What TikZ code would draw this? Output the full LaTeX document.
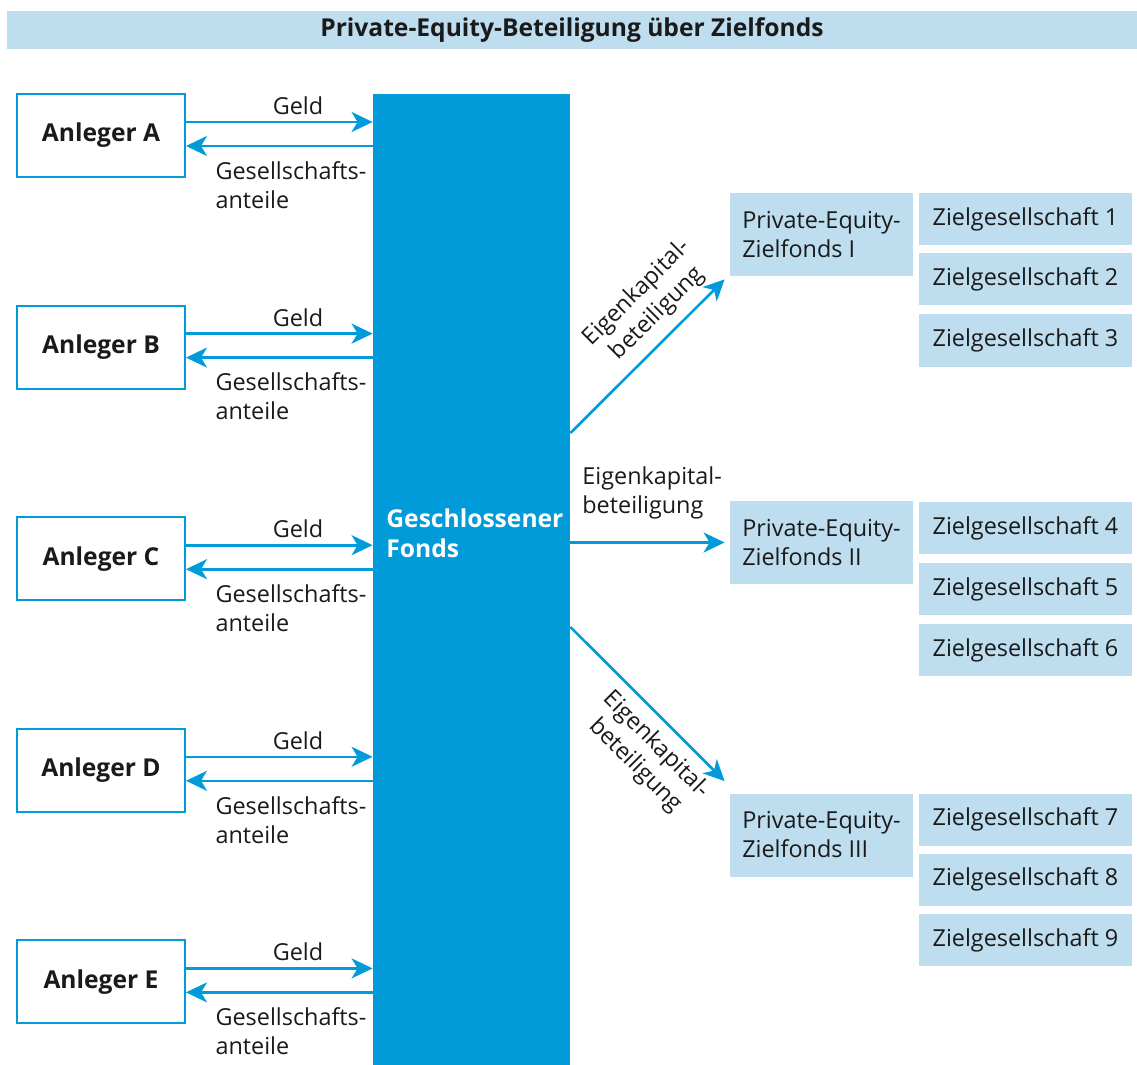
\documentclass[tikz,border=0pt]{standalone}
\usepackage{fontspec}
\setmainfont{Open Sans}
\usetikzlibrary{arrows.meta}

\definecolor{fondsblau}{HTML}{009BD8}
\definecolor{hellblau}{HTML}{BEDDEF}
\definecolor{schrift}{HTML}{1A1A1A}
\newcommand{\grundschrift}{\fontsize{11.7pt}{14.5pt}\selectfont}
\newcommand{\fettschrift}{\fontsize{12.3pt}{14.8pt}\selectfont\bfseries}

\tikzset{
  anleger/.style={draw=fondsblau, line width=1pt, fill=white, minimum width=84pt,
    minimum height=41.5pt, font=\fettschrift},
  zielfonds/.style={fill=hellblau, minimum width=91.5pt, minimum height=41.5pt, align=left},
  zielges/.style={fill=hellblau, minimum width=106.5pt, minimum height=26pt},
  pfeil/.style={draw=fondsblau, line width=1.3pt,
    -{Stealth[length=10.5pt, width=10pt, inset=3pt]}},
}

\begin{document}
\begin{tikzpicture}[x=0.5pt, y=-0.5pt, font=\grundschrift, text=schrift]
  \useasboundingbox (0,0) rectangle (1137,1065);

  % Titel
  \node[fill=hellblau, minimum width=565pt, minimum height=19pt, font=\fettschrift]
    (titel) at (572,30) {Private-Equity-Beteiligung über Zielfonds};

  % Geschlossener Fonds
  \node[fill=fondsblau, minimum width=98.5pt, minimum height=485.5pt, inner sep=0pt]
    (fonds) at (471.5,579.5) {};
  \node[anchor=west, text=white, font=\fettschrift, align=left, inner sep=0pt]
    (fondstext) at (386,533) {Geschlossener\\Fonds};

  % Anleger mit Geld und Anteilen
  \foreach \n [count=\i] in {A,B,C,D,E} {
    \node[anleger] (anl\n) at (101,{135.5+211.6*(\i-1)}) {Anleger \n};
    \draw[pfeil] ([yshift=6.75pt]anl\n.east) -- ([yshift=6.75pt]anl\n.east -| fonds.west)
      node[pos=0.6, above, inner sep=3pt] (geld\n) {Geld};
    \draw[pfeil] ([yshift=-5.25pt]anl\n.east -| fonds.west) -- ([yshift=-5.25pt]anl\n.east)
      node[pos=0.87, anchor=north west, align=left, inner sep=2pt, yshift=-5pt] (anteil\n)
      {Gesellschafts-\\anteile};
  }

  % Zielfonds
  \node[zielfonds] (zf1) at (821.5,234.5) {Private-Equity-\\Zielfonds I};
  \node[zielfonds] (zf2) at (821.5,542.5) {Private-Equity-\\Zielfonds II};
  \node[zielfonds] (zf3) at (821.5,835) {Private-Equity-\\Zielfonds III};

  % Zielgesellschaften
  \foreach \k/\y in {1/219, 2/279.5, 3/340.5, 4/528, 5/589, 6/650, 7/819.5, 8/879.5, 9/940}
    \node[zielges] (zg\k) at (1025.5,\y) {Zielgesellschaft \k};

  % Eigenkapitalbeteiligungen
  \coordinate (ek1) at ([shift={(-5,3)}]zf1.south west);
  \coordinate (ek2) at ([xshift=-2.5pt]zf2.west);
  \coordinate (ek3) at ([shift={(-5,-12)}]zf3.north west);
  \draw[pfeil] (fonds.east |- 0,433) -- (ek1)
    node[pos=0.67, sloped, above, align=center, inner sep=5pt] (ekl1) {Eigenkapital-\\beteiligung};
  \draw[pfeil] (fonds.east |- ek2) -- (ek2);
  \node[anchor=south west, align=left, inner sep=0pt] (ekl2) at (582,520) {Eigenkapital-\\beteiligung};
  \draw[pfeil] (fonds.east |- 0,627) -- (ek3)
    node[pos=0.66, sloped, below, align=center, inner sep=5pt] (ekl3) {Eigenkapital-\\beteiligung};
\end{tikzpicture}
\end{document}
